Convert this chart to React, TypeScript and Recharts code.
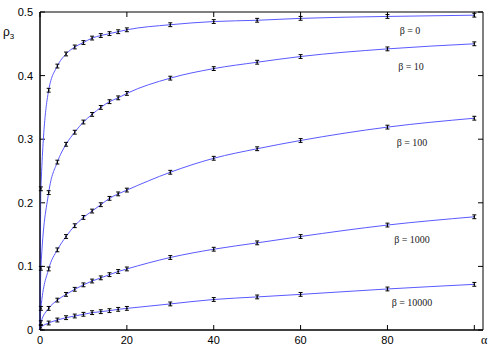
import React from 'react';
import {
  ComposedChart,
  Line,
  Scatter,
  ErrorBar,
  XAxis,
  YAxis,
  ReferenceArea,
  ReferenceLine,
} from 'recharts';

// alpha values of the measured points
const ALPHA = [0.2, 2, 4, 6, 8, 10, 12, 14, 16, 18, 20, 30, 40, 50, 60, 80, 100];

const RHO_B0 = [0.222, 0.377, 0.415, 0.434, 0.445, 0.452, 0.459, 0.463, 0.466, 0.469, 0.472, 0.48, 0.485, 0.487, 0.49, 0.493, 0.495];
const RHO_B10 = [0.097, 0.216, 0.264, 0.292, 0.311, 0.327, 0.339, 0.35, 0.359, 0.365, 0.372, 0.396, 0.411, 0.421, 0.43, 0.442, 0.45];
const RHO_B100 = [0.034, 0.096, 0.126, 0.147, 0.164, 0.177, 0.187, 0.197, 0.207, 0.214, 0.22, 0.248, 0.27, 0.285, 0.298, 0.319, 0.333];
const RHO_B1000 = [0.0115, 0.034, 0.047, 0.056, 0.064, 0.071, 0.077, 0.082, 0.087, 0.092, 0.096, 0.114, 0.127, 0.137, 0.147, 0.165, 0.178];
const RHO_B10000 = [0.004, 0.011, 0.0157, 0.0194, 0.022, 0.0247, 0.0273, 0.0288, 0.0304, 0.0325, 0.034, 0.041, 0.048, 0.052, 0.056, 0.0645, 0.0718];

const ERR = 0.003;

const X_MAX = 102;
const Y_MAX = 0.5;
const X_TICKS = [0, 20, 40, 60, 80, 100];
const Y_TICKS = [0, 0.1, 0.2, 0.3, 0.4, 0.5];

const SERIES = [
  { name: 'β = 0', rho: RHO_B0 },
  { name: 'β = 10', rho: RHO_B10 },
  { name: 'β = 100', rho: RHO_B100 },
  { name: 'β = 1000', rho: RHO_B1000 },
  { name: 'β = 10000', rho: RHO_B10000 },
];

// where the curve labels sit (pixels)
const LABEL_POS = [
  { left: 410, top: 30 },
  { left: 411, top: 66 },
  { left: 412, top: 142 },
  { left: 412, top: 239 },
  { left: 412, top: 302 },
];

const W = 500;
const H = 350;
const M = { top: 12, right: 17, bottom: 0, left: 0 };
const Y_AXIS_W = 40;
const X_AXIS_H = 20;
const PLOT_W = W - M.left - M.right - Y_AXIS_W;
const PLOT_H = H - M.top - M.bottom - X_AXIS_H;

// inward tick length, 5px expressed in axis units
const TX = (5 / PLOT_W) * X_MAX;
const TY = (5 / PLOT_H) * Y_MAX;

const LINE_COLOR = '#5a5aff';
const tickStyle = { fill: '#000', fontSize: 11, fontFamily: "'Liberation Sans', Arial, sans-serif" };

const Marker = (p: any) => <circle cx={p.cx} cy={p.cy} r={0.8} fill="#000" />;

export default function App() {
  const series = SERIES.map((s) => {
    const points = ALPHA.map((a, i) => ({ a, r: s.rho[i], err: ERR }));
    return { ...s, points, curve: [{ a: 0, r: 0 }, ...points] };
  });

  return (
    <div style={{ position: 'absolute', left: 0, top: 0, width: W, height: H, background: '#fff' }}>
      <ComposedChart width={W} height={H} margin={M}>
        <XAxis
          dataKey="a"
          type="number"
          domain={[0, X_MAX]}
          ticks={X_TICKS}
          height={X_AXIS_H}
          stroke="#000"
          tickLine={false}
          tickSize={0}
          tickMargin={6}
          tick={tickStyle}
          tickFormatter={(v: number) => (v === 100 ? '' : String(v))}
        />
        <YAxis
          type="number"
          domain={[0, Y_MAX]}
          ticks={Y_TICKS}
          width={Y_AXIS_W}
          stroke="#000"
          tickLine={false}
          tickSize={0}
          tickMargin={7}
          tick={tickStyle}
        />

        {/* plot frame */}
        <ReferenceArea x1={0} x2={X_MAX} y1={0} y2={Y_MAX} fill="none" stroke="#000" strokeWidth={1} />

        {/* inward ticks on all four sides */}
        {X_TICKS.map((t) => (
          <ReferenceLine key={'xb' + t} segment={[{ x: t, y: 0 }, { x: t, y: TY }]} stroke="#000" />
        ))}
        {X_TICKS.map((t) => (
          <ReferenceLine key={'xt' + t} segment={[{ x: t, y: Y_MAX }, { x: t, y: Y_MAX - TY }]} stroke="#000" />
        ))}
        {Y_TICKS.map((t) => (
          <ReferenceLine key={'yl' + t} segment={[{ x: 0, y: t }, { x: TX, y: t }]} stroke="#000" />
        ))}
        {Y_TICKS.map((t) => (
          <ReferenceLine key={'yr' + t} segment={[{ x: X_MAX, y: t }, { x: X_MAX - TX, y: t }]} stroke="#000" />
        ))}

        {series.map((s) => (
          <Line
            key={'l' + s.name}
            data={s.curve}
            dataKey="r"
            type="monotone"
            stroke={LINE_COLOR}
            strokeWidth={1}
            dot={false}
            isAnimationActive={false}
          />
        ))}
        {series.map((s) => (
          <Scatter
            key={'s' + s.name}
            data={s.points}
            dataKey="r"
            shape={Marker}
            isAnimationActive={false}
          >
            <ErrorBar dataKey="err" direction="y" width={2} stroke="#000" strokeWidth={1} />
          </Scatter>
        ))}
      </ComposedChart>

      {series.map((s, i) => (
        <div
          key={'t' + s.name}
          style={{
            position: 'absolute',
            left: LABEL_POS[i].left,
            top: LABEL_POS[i].top,
            transform: 'translate(-50%, -50%)',
            fontFamily: "'Liberation Serif', 'Times New Roman', serif",
            fontSize: 10,
            whiteSpace: 'nowrap',
            color: '#222',
          }}
        >
          {s.name}
        </div>
      ))}
      <div
        style={{
          position: 'absolute',
          left: 3,
          top: 25,
          fontFamily: "'Liberation Sans', Arial, sans-serif",
          fontSize: 12,
          color: '#000',
        }}
      >
        ρ<sub style={{ fontSize: 8 }}>3</sub>
      </div>
      <div
        style={{
          position: 'absolute',
          left: 481,
          top: 333,
          fontFamily: "'Liberation Serif', 'Times New Roman', serif",
          fontSize: 12,
          color: '#000',
        }}
      >
        α
      </div>
    </div>
  );
}
